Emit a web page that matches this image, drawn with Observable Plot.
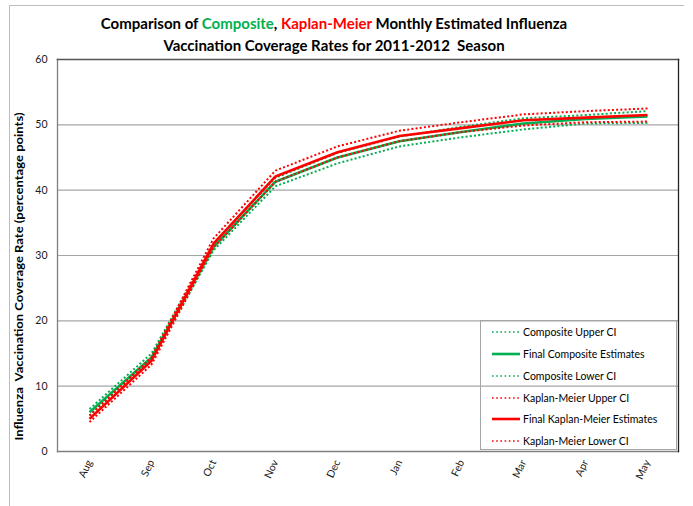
<!DOCTYPE html>
<html>
<head>
<meta charset="utf-8">
<script src="https://cdn.jsdelivr.net/npm/d3@7"></script>
<script src="https://cdn.jsdelivr.net/npm/@observablehq/plot@0.6"></script>
<style>
  html, body { margin: 0; padding: 0; background: #fff; }
  #wrap { position: relative; width: 693px; height: 506px; overflow: hidden; font-family: Lato, "Open Sans", sans-serif; }
  #frameTop { position: absolute; left: 9px; top: 5px; width: 675px; height: 0; border-top: 1px solid #bdbdbd; }
  #frameLeft { position: absolute; left: 9px; top: 5px; width: 0; height: 520px; border-left: 1px solid #bdbdbd; }
  #title { position: absolute; left: 0; top: 12px; width: 668px; text-align: center; font-weight: bold; font-size: 15px; line-height: 22px; color: #000; }
  #legend { position: absolute; left: 480px; top: 320px; width: 197px; height: 130px; border: 1px solid #a6a6a6; box-sizing: border-box; font-size: 10.5px; }
  .item { position: absolute; left: 11px; height: 14px; display: flex; align-items: center; white-space: nowrap; }
  .item svg { margin-right: 3px; }
</style>
</head>
<body>
<div id="wrap">
  <div id="frameTop"></div>
  <div id="frameLeft"></div>
  <div id="chart"></div>
  <div id="title"></div>
  <div id="legend"></div>
</div>
<script>
const months = ["Aug","Sep","Oct","Nov","Dec","Jan","Feb","Mar","Apr","May"];
const compUpper = [6.5, 15.0, 31.8, 41.9, 45.7, 48.2, 49.7, 51.0, 51.5, 52.1];
const compEst   = [6.0, 14.4, 31.3, 41.3, 45.0, 47.5, 48.9, 50.2, 50.9, 51.3];
const compLower = [5.5, 14.0, 30.8, 40.6, 44.1, 46.7, 48.1, 49.3, 50.2, 50.3];
const kmUpper   = [5.5, 14.4, 32.6, 43.0, 46.7, 49.1, 50.4, 51.6, 52.1, 52.5];
const kmEst     = [5.0, 13.9, 31.8, 42.1, 45.8, 48.3, 49.5, 50.7, 51.1, 51.5];
const kmLower   = [4.5, 13.3, 31.2, 41.3, 45.0, 47.5, 48.9, 49.9, 50.4, 50.5];
const yTicks = [0, 10, 20, 30, 40, 50, 60];
const yLabel = "Influenza  Vaccination Coverage Rate (percentage points)";
const titleLine1 = ["Comparison of ", "Composite", ", ", "Kaplan-Meier", " Monthly Estimated Influenza"];
const titleLine2 = "Vaccination Coverage Rates for 2011-2012\u00a0 Season";

const GREEN = "#00b050", RED = "#ff0000";
const seriesDefs = [
  {name: "Composite Upper CI", values: compUpper, color: GREEN, dotted: true},
  {name: "Final Composite Estimates", values: compEst, color: GREEN, dotted: false},
  {name: "Composite Lower CI", values: compLower, color: GREEN, dotted: true},
  {name: "Kaplan-Meier Upper CI", values: kmUpper, color: RED, dotted: true},
  {name: "Final Kaplan-Meier Estimates", values: kmEst, color: RED, dotted: false},
  {name: "Kaplan-Meier Lower CI", values: kmLower, color: RED, dotted: true}
];

const lineMarks = seriesDefs.map(s => {
  const data = months.map((m, i) => ({month: m, value: s.values[i]}));
  return Plot.line(data, {
    x: "month", y: "value", stroke: s.color,
    strokeWidth: s.dotted ? 2 : 2.6,
    strokeDasharray: s.dotted ? "2,2.2" : null,
    strokeLinecap: "butt", strokeLinejoin: "miter"
  });
});

const chart = Plot.plot({
  width: 693, height: 506,
  marginLeft: 57, marginRight: 15, marginTop: 59, marginBottom: 55,
  style: {fontFamily: "Lato, 'Open Sans', sans-serif", fontSize: "10px", color: "#1a1a1a", background: "transparent"},
  x: {type: "point", domain: months, padding: 0.5},
  y: {domain: [0, 60]},
  marks: [
    Plot.ruleY(yTicks.filter(d => d > 0 && d < 60), {stroke: "#a6a6a6", strokeWidth: 1.2, strokeOpacity: 1}),
    Plot.frame({anchor: "left", stroke: "#7f7f7f", strokeWidth: 1.3}),
    Plot.frame({anchor: "bottom", stroke: "#7f7f7f", strokeWidth: 1.3}),
    Plot.frame({anchor: "top", stroke: "#555", strokeWidth: 1.6}),
    Plot.frame({anchor: "right", stroke: "#222", strokeWidth: 1.3}),
    Plot.axisY({ticks: yTicks, tickSize: 0, tickPadding: 10, label: null, fontSize: 10.5}),
    Plot.axisX({tickSize: 0, tickPadding: 9, tickRotate: -65, label: null, fontSize: 10.5}),
    Plot.text([yLabel], {frameAnchor: "bottom-left", textAnchor: "start", dx: -35, dy: -11, rotate: -90, fontWeight: "bold", fontSize: 10.5, fill: "#000"}),
    ...lineMarks
  ]
});
d3.select(chart).selectAll("text")
  .filter(function () { return this.textContent === yLabel; })
  .attr("textLength", 328).attr("lengthAdjust", "spacingAndGlyphs");
document.getElementById("chart").appendChild(chart);

// Title
const t = document.getElementById("title");
const colors = ["#000", GREEN, "#000", RED, "#000"];
const l1 = document.createElement("div");
titleLine1.forEach((txt, i) => {
  const sp = document.createElement("span");
  sp.textContent = txt;
  sp.style.color = colors[i];
  l1.appendChild(sp);
});
t.appendChild(l1);
const l2 = document.createElement("div");
l2.textContent = titleLine2;
t.appendChild(l2);

// Legend
const lg = document.getElementById("legend");
const rowY = [4, 26, 48, 70, 91, 113];
seriesDefs.forEach((s, i) => {
  const it = document.createElement("div");
  it.className = "item";
  it.style.top = rowY[i] + "px";
  const w = 28;
  const svg = d3.create("svg").attr("width", w).attr("height", 6);
  svg.append("line").attr("x1", 0).attr("x2", w).attr("y1", 3).attr("y2", 3)
    .attr("stroke", s.color).attr("stroke-width", s.dotted ? 1.6 : 2.6)
    .attr("stroke-dasharray", s.dotted ? "1.6,2.6" : null);
  it.appendChild(svg.node());
  const sp = document.createElement("span");
  sp.textContent = s.name;
  it.appendChild(sp);
  lg.appendChild(it);
});
</script>
</body>
</html>
